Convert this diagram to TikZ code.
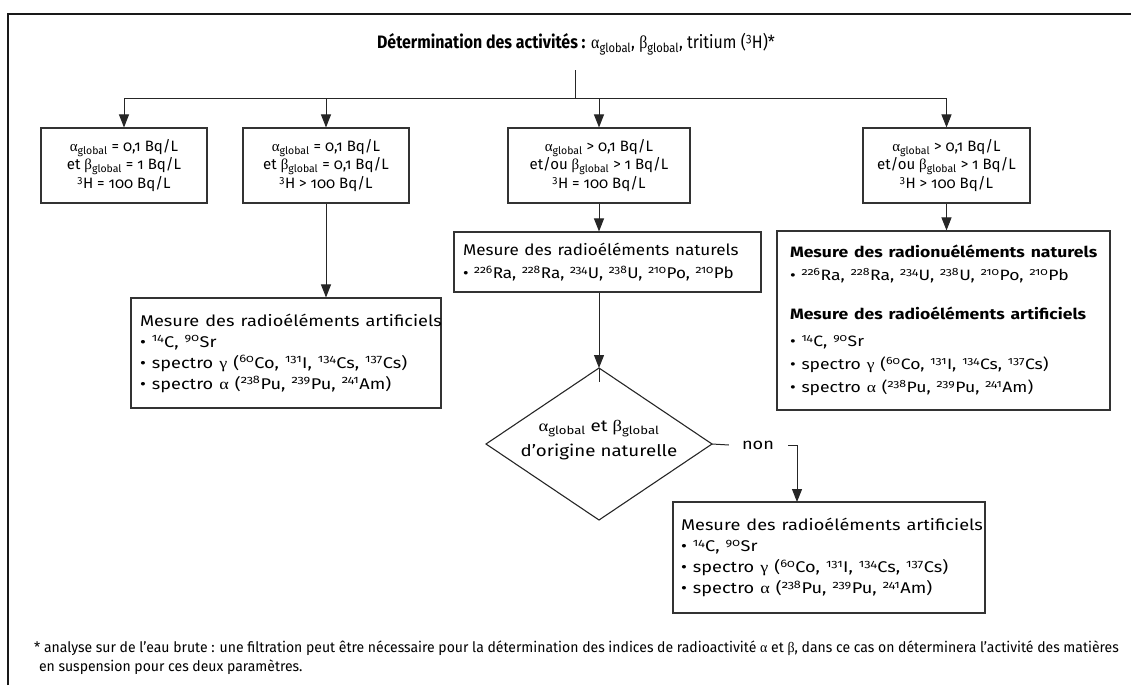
\documentclass[tikz,border=0pt]{standalone}
\usepackage{graphicx}
\usepackage{fontspec}
\setmainfont{Fira Sans}[Numbers=OldStyle]
\newfontfamily\grk{Liberation Serif}
\usetikzlibrary{arrows.meta}
\newcommand\Ag{{\grk α}\textsubscript{global}}
\newcommand\Bg{{\grk β}\textsubscript{global}}
\newcommand\Sp[1]{\textsuperscript{#1}}
\newcommand\W[1]{\scalebox{1.17}[1]{#1}}
\newcommand\Wn[1]{\scalebox{1.10}[1]{#1}}
\begin{document}
\begin{tikzpicture}[x=1pt,y=-1pt,
  line/.style={draw=black!85,line width=1pt},
  arr/.style={line,-{Triangle[width=10pt,length=13pt]}},
  cbox/.style={draw=black!80,line width=1.1pt,inner sep=0pt,align=center,
    font=\fontsize{15}{18.5}\selectfont,minimum height=75pt},
  lbox/.style={draw=black!80,line width=1.1pt,inner xsep=9pt,inner ysep=0pt,align=left,
    font=\fontsize{15.5}{21}\selectfont},
]
\useasboundingbox (0,0) rectangle (1131,685);
% frame
\draw[draw=black!90,line width=1.8pt] (8,685) -- (8,14) -- (1131,14);

% title
\node[font=\fontsize{18}{22}\selectfont,inner sep=0pt] (title) at (576,44)
  {\scalebox{0.885}[1]{\textbf{Détermination des activités :} \Ag, \Bg, tritium (\Sp{3}H)*}};
\coordinate (stem) at (575,70);
\coordinate (bus) at (575,98);

% first row
\node[cbox,minimum width=166pt] (b1) at (124,165.5)
  {\Ag{} = 0,1 Bq/L\\ et \Bg{} = 1 Bq/L\\ \Sp{3}H = 100 Bq/L};
\node[cbox,minimum width=166pt] (b2) at (326,165.5)
  {\Ag{} = 0,1 Bq/L\\ et \Bg{} = 0,1 Bq/L\\ \Sp{3}H > 100 Bq/L};
\node[cbox,minimum width=182pt] (b3) at (599,165.5)
  {\Ag{} > 0,1 Bq/L\\ et/ou \Bg{} > 1 Bq/L\\ \Sp{3}H = 100 Bq/L};
\node[cbox,minimum width=167pt] (b4) at (946.5,165.5)
  {\Ag{} > 0,1 Bq/L\\ et/ou \Bg{} > 1 Bq/L\\ \Sp{3}H > 100 Bq/L};

% second level
\node[lbox,text width=292pt,minimum height=110pt] (b5) at (286,353)
  {\W{Mesure des radioéléments artificiels}\\
   \W{• \Sp{14}C, \Sp{90}Sr}\\
   \W{• spectro {\grk γ} (\Sp{60}Co, \Sp{131}I, \Sp{134}Cs, \Sp{137}Cs)}\\
   \W{• spectro {\grk α} (\Sp{238}Pu, \Sp{239}Pu, \Sp{241}Am)}\par\vspace*{8pt}};
\node[lbox,text width=289pt,minimum height=60pt,font=\fontsize{15.5}{23}\selectfont] (b6) at (607.5,262)
  {\Wn{Mesure des radioéléments naturels}\\
   \Wn{• \Sp{226}Ra, \Sp{228}Ra, \Sp{234}U, \Sp{238}U, \Sp{210}Po, \Sp{210}Pb}};
\node[lbox,inner xsep=13pt,text width=307pt,minimum height=179pt,font=\fontsize{15}{23}\selectfont] (b8) at (943.5,320.5)
  {\W{\textbf{Mesure des radionuéléments naturels}}\\
   \W{• \Sp{226}Ra, \Sp{228}Ra, \Sp{234}U, \Sp{238}U, \Sp{210}Po, \Sp{210}Pb}\\[16pt]
   \W{\textbf{Mesure des radioéléments artificiels}}\\[4pt]
   \W{• \Sp{14}C, \Sp{90}Sr}\\
   \W{• spectro {\grk γ} (\Sp{60}Co, \Sp{131}I, \Sp{134}Cs, \Sp{137}Cs)}\\
   \W{• spectro {\grk α} (\Sp{238}Pu, \Sp{239}Pu, \Sp{241}Am)}};

% decision
\coordinate (dtop) at (599,368);
\coordinate (dright) at (712,444);
\coordinate (dbottom) at (599,520);
\coordinate (dleft) at (486,444);
\draw[draw=black!85,line width=1.1pt] (dtop) -- (dright) -- (dbottom) -- (dleft) -- cycle;
\node[align=center,font=\fontsize{16}{25}\selectfont,inner sep=0pt] (dtext) at (599,440)
  {\W{\Ag{} et \Bg}\\ \W{d’origine naturelle}};
\node[font=\fontsize{15.5}{16}\selectfont,inner sep=0pt] (non) at (758,445) {\W{non}};

\node[lbox,inner xsep=8pt,text width=296pt,minimum height=111pt] (b7) at (829,557.5)
  {\W{Mesure des radioéléments artificiels}\\
   \W{• \Sp{14}C, \Sp{90}Sr}\\
   \W{• spectro {\grk γ} (\Sp{60}Co, \Sp{131}I, \Sp{134}Cs, \Sp{137}Cs)}\\
   \W{• spectro {\grk α} (\Sp{238}Pu, \Sp{239}Pu, \Sp{241}Am)}\par\vspace*{16pt}};

% connectors
\draw[line] (stem) -- (bus);
\draw[line] (b1.north |- bus) -- (b4.north |- bus);
\draw[arr] (b1.north |- bus) -- (b1.north);
\draw[arr] (b2.north |- bus) -- (b2.north);
\draw[arr] (b3.north |- bus) -- (b3.north);
\draw[arr] (b4.north |- bus) -- (b4.north);
\draw[arr] (b2.south) -- (b2.south |- b5.north);
\draw[arr] (b3.south) -- (b3.south |- b6.north);
\draw[arr] (b4.south) -- (b4.south |- b8.north);
\draw[arr] (dtop |- b6.south) -- (dtop);
\draw[line] (dtop) -- ++(0,14);
\draw[line] (dright) -- ([xshift=-13pt]non.west);
\draw[arr] ([xshift=14pt]non.east) -| (797,502);

% footnote
\node[anchor=west,align=left,inner sep=0pt,font=\fontsize{14.5}{19}\selectfont] (note) at (34,658)
  {\scalebox{0.965}[1]{* analyse sur de l’eau brute : une filtration peut être nécessaire pour la détermination des indices de radioactivité {\grk α} et {\grk β}, dans ce cas on déterminera l’activité des matières}\\
   \scalebox{0.965}[1]{\hspace*{5pt}en suspension pour ces deux paramètres.}};
\end{tikzpicture}
\end{document}
